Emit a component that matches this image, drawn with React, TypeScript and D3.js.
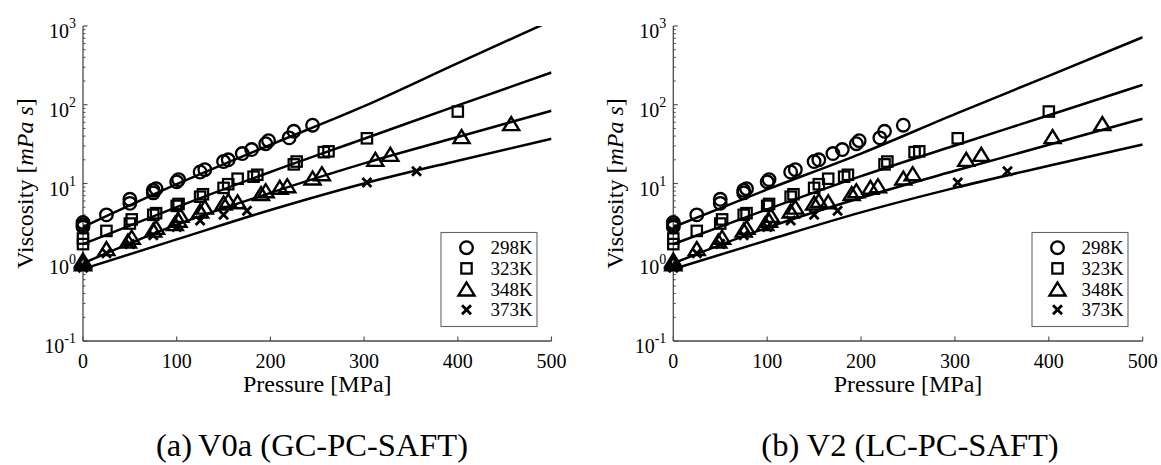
import React from "react";
import * as d3 from "d3";

// ---------- Data ----------
const temperatures = ["298K", "323K", "348K", "373K"];
const xTicks = [0, 100, 200, 300, 400, 500];
const yTickExponents = [-1, 0, 1, 2, 3];

// experimental points (shared by both panels)
const exp298P = [0, 0, 0, 25, 50, 50, 75, 75, 78, 100, 102, 125, 130, 150, 155, 170, 180, 195, 198, 220, 225, 245];
const exp298V = [2.8, 3.0, 3.2, 4.0, 5.6, 6.3, 7.6, 8.2, 8.6, 10.5, 11.2, 14, 15, 19, 20, 24, 27, 32, 35, 38, 46, 55];
const exp323P = [0, 0, 25, 50, 52, 75, 78, 100, 102, 125, 128, 150, 155, 165, 182, 186, 225, 228, 257, 262, 303, 400];
const exp323V = [1.7, 2.0, 2.5, 3.1, 3.5, 4.0, 4.2, 5.2, 5.5, 6.8, 7.3, 8.8, 9.8, 11.5, 12.2, 12.9, 17.5, 19, 25, 25.6, 37.5, 82];
const exp348P = [0, 0, 0, 25, 48, 52, 75, 78, 98, 102, 104, 125, 130, 150, 155, 165, 190, 195, 210, 218, 245, 255, 312, 328, 404, 457];
const exp348V = [0.9, 0.95, 1.0, 1.4, 1.75, 1.95, 2.4, 2.6, 2.9, 3.2, 3.7, 4.2, 4.7, 5.3, 5.7, 5.5, 7.0, 7.6, 8.4, 8.8, 11, 12.5, 19, 22, 37, 54];
const exp373P = [0, 0, 25, 50, 75, 100, 125, 150, 175, 303, 356];
const exp373V = [0.85, 0.9, 1.3, 1.7, 2.2, 2.8, 3.4, 4.0, 4.5, 10.3, 14.3];

// model curves
const modelP = [0, 100, 200, 300, 400, 500];
const v0a298 = [2.8, 9.8, 31, 96, 338, 1170];
const v0a323 = [1.7, 5.0, 14, 37, 98, 257];
const v0a348 = [0.97, 3.0, 7.6, 18, 39, 84];
const v0a373 = [0.82, 1.95, 4.6, 10, 19.5, 37];
const v2298 = [2.8, 8.4, 24, 76, 233, 720];
const v2323 = [1.7, 4.7, 12.4, 30.4, 73.6, 179];
const v2348 = [0.97, 2.75, 6.6, 14.5, 31, 66.5];
const v2373 = [0.82, 1.9, 4.3, 8.8, 16.8, 31.2];

const captionA = "(a)";
const captionA2 = "V0a (GC-PC-SAFT)";
const captionB = "(b) V2 (LC-PC-SAFT)";

// ---------- Helpers ----------
const SERIF = "Liberation Serif";
const AXIS = "#4a4a4a";

type MarkerKind = "circle" | "square" | "triangle" | "cross";
const kinds: MarkerKind[] = ["circle", "square", "triangle", "cross"];

function Marker({ kind, x, y }: { kind: MarkerKind; x: number; y: number }) {
  if (kind === "circle")
    return <circle cx={x} cy={y} r={6.3} fill="none" stroke="#000" strokeWidth={2.3} />;
  if (kind === "square")
    return <rect x={x - 5.2} y={y - 5.2} width={10.4} height={10.4} fill="none" stroke="#000" strokeWidth={2.2} />;
  if (kind === "triangle") {
    const h = 13, w = 16;
    const pts = `${x},${y - (2 * h) / 3} ${x - w / 2},${y + h / 3} ${x + w / 2},${y + h / 3}`;
    return <polygon points={pts} fill="none" stroke="#000" strokeWidth={2.4} strokeLinejoin="miter" />;
  }
  const s = 4.5;
  return (
    <path d={`M${x - s},${y - s}L${x + s},${y + s}M${x - s},${y + s}L${x + s},${y - s}`} stroke="#000" strokeWidth={2.8} />
  );
}

interface PanelProps {
  id: string;
  x0: number;
  x1: number;
  models: number[][];
  legendX: number;
}

const txt = (size: number, extra: any = {}) => ({ fontFamily: SERIF, fontSize: size + "px", ...extra });

function Panel({ id, x0, x1, models, legendX }: PanelProps) {
  const top = 26, bottom = 341;
  const x = d3.scaleLinear().domain([0, 500]).range([x0, x1]);
  const y = d3.scaleLog().domain([0.1, 1000]).range([bottom, top]);
  const line = d3
    .line<[number, number]>()
    .x((d) => x(d[0]))
    .y((d) => y(d[1]))
    .curve(d3.curveMonotoneX);

  const expSets = [
    [exp298P, exp298V],
    [exp323P, exp323V],
    [exp348P, exp348V],
    [exp373P, exp373V],
  ];

  const minor: number[] = [];
  for (let e = -1; e < 3; e++) for (let m = 2; m <= 9; m++) minor.push(m * Math.pow(10, e));

  return (
    <g>
      <defs>
        <clipPath id={`clip-${id}`}>
          <rect x={x0} y={top} width={x1 - x0} height={bottom - top} />
        </clipPath>
      </defs>
      {/* axes */}
      <line x1={x0} x2={x0} y1={top} y2={bottom} stroke={AXIS} strokeWidth={1.3} />
      <line x1={x0} x2={x1} y1={bottom} y2={bottom} stroke={AXIS} strokeWidth={1.3} />
      {minor.map((v, i) => (
        <line key={"m" + i} x1={x0} x2={x0 + 2.5} y1={y(v)} y2={y(v)} stroke={AXIS} strokeWidth={1} />
      ))}
      {yTickExponents.map((e) => (
        <g key={"y" + e}>
          <line x1={x0} x2={x0 + 4.5} y1={y(Math.pow(10, e))} y2={y(Math.pow(10, e))} stroke={AXIS} strokeWidth={1.1} />
          <text x={x0 - 7} y={y(Math.pow(10, e)) + 12} textAnchor="end" style={txt(20)} fill="#000">
            10
            <tspan dy={-10} style={txt(14)}>
              {e}
            </tspan>
          </text>
        </g>
      ))}
      {xTicks.map((t) => (
        <g key={"x" + t}>
          <line x1={x(t)} x2={x(t)} y1={bottom} y2={bottom - 4.5} stroke={AXIS} strokeWidth={1.1} />
          <text x={x(t)} y={368} textAnchor="middle" style={txt(20)} fill="#000">
            {t}
          </text>
        </g>
      ))}
      <text x={(x0 + x1) / 2} y={392} textAnchor="middle" style={txt(24)} fill="#000">
        Pressure [MPa]
      </text>
      <text transform={`translate(${x0 - 50},183.5) rotate(-90)`} textAnchor="middle" style={txt(24)} fill="#000">
        Viscosity [<tspan style={txt(24, { fontStyle: "italic" })}>mPa s</tspan>]
      </text>

      {/* model curves */}
      <g clipPath={`url(#clip-${id})`}>
        {models.map((vals, i) => (
          <path
            key={"c" + i}
            d={line(modelP.map((p, j) => [p, vals[j]] as [number, number])) || ""}
            fill="none"
            stroke="#000"
            strokeWidth={2.5}
          />
        ))}
      </g>

      {/* experimental points */}
      {expSets.map(([ps, vs], i) =>
        ps.map((p, j) => <Marker key={`p${i}-${j}`} kind={kinds[i]} x={x(p)} y={y(vs[j])} />)
      )}

      {/* legend */}
      <rect x={legendX} y={232.5} width={96} height={94} fill="#fff" stroke="#666" strokeWidth={1.1} />
      {temperatures.map((t, i) => {
        const cy = 247.7 + i * 20.7;
        return (
          <g key={"l" + t}>
            <Marker kind={kinds[i]} x={legendX + 25.5} y={i === 2 ? cy + 2 : cy} />
            <text x={legendX + 49.5} y={cy + 6.5} style={txt(19)} fill="#000">
              {t}
            </text>
          </g>
        );
      })}
    </g>
  );
}

export default function App() {
  return (
    <svg
      width={1161}
      height={465}
      style={{ position: "absolute", left: 0, top: 0, background: "#fff" }}
      xmlns="http://www.w3.org/2000/svg"
    >
      <rect width={1161} height={465} fill="#fff" />
      <Panel id="a" x0={83} x1={551.5} models={[v0a298, v0a323, v0a348, v0a373]} legendX={441} />
      <Panel id="b" x0={673.3} x1={1142.7} models={[v2298, v2323, v2348, v2373]} legendX={1032} />
      <text x={312} y={456} textAnchor="middle" style={txt(32.5)} fill="#000">
        {captionA}
        <tspan dx={6}>{captionA2}</tspan>
      </text>
      <text x={910} y={456} textAnchor="middle" style={txt(32.5)} fill="#000">
        {captionB}
      </text>
    </svg>
  );
}
